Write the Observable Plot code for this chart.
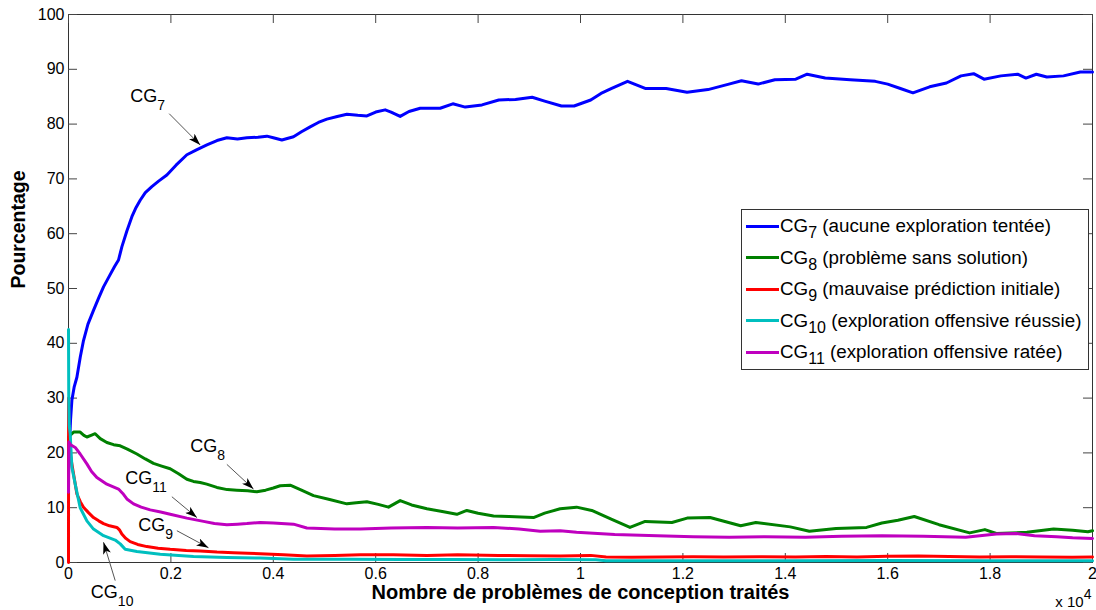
<!DOCTYPE html>
<html><head><meta charset="utf-8">
<script src="https://cdn.jsdelivr.net/npm/d3@7"></script>
<script src="https://cdn.jsdelivr.net/npm/@observablehq/plot@0.6"></script>
<style>
body{margin:0;background:#fff;}
#wrap{position:relative;width:1096px;height:610px;font-family:Arial,"Liberation Sans",sans-serif;}
#legend{position:absolute;left:741px;top:209px;width:348px;height:161px;border:1px solid #333;background:#fff;box-sizing:border-box;}
.row{position:absolute;left:0;height:20px;display:flex;align-items:center;font-size:18.8px;white-space:nowrap;color:#000;}
.sw{width:33px;height:3px;margin-left:4px;margin-right:1px;}
.row sub{font-size:16px;line-height:0;vertical-align:-6px;}
</style></head>
<body><div id="wrap"><div id="chart"></div><div id="legend"></div></div>
<script>
// ---- data ----
const xTicks = [0,2000,4000,6000,8000,10000,12000,14000,16000,18000,20000];
const xTickLabels = ["0","0.2","0.4","0.6","0.8","1","1.2","1.4","1.6","1.8","2"];
const yTicks = [0,10,20,30,40,50,60,70,80,90,100];

const cg7 = [[0,16],[15,21],[40,26],[66,29.6],[110,32],[164,33.8],[230,37.5],[293,40.5],[380,43.5],[488,46],[590,48.3],[684,50.3],[800,52.3],[900,54],[977,55.2],[1042,57.6],[1140,60.5],[1238,63.1],[1320,64.8],[1400,66.1],[1500,67.5],[1628,68.6],[1760,69.6],[1921,70.7],[2100,72.5],[2312,74.4],[2500,75.3],[2703,76.2],[2900,77],[3093,77.5],[3300,77.3],[3484,77.5],[3700,77.6],[3875,77.8],[4000,77.5],[4167,77.1],[4395,77.7],[4550,78.6],[4720,79.5],[4880,80.3],[5046,80.9],[5250,81.4],[5437,81.8],[5650,81.6],[5828,81.5],[6000,82.2],[6185,82.6],[6300,82.2],[6478,81.4],[6650,82.3],[6869,82.9],[7050,82.9],[7259,82.9],[7506,83.7],[7750,83.1],[8076,83.5],[8404,84.4],[8730,84.5],[9056,84.9],[9300,84.2],[9628,83.3],[9875,83.3],[10200,84.4],[10400,85.6],[10609,86.5],[10919,87.8],[11263,86.5],[11673,86.5],[12081,85.8],[12490,86.3],[12898,87.3],[13144,87.9],[13470,87.3],[13796,88.1],[14205,88.2],[14427,89.1],[14779,88.4],[15267,88.1],[15757,87.8],[16000,87.3],[16248,86.5],[16493,85.7],[16819,86.8],[17147,87.5],[17432,88.8],[17678,89.2],[17882,88.2],[18210,88.8],[18537,89.1],[18700,88.4],[18903,89.1],[19108,88.6],[19434,88.8],[19762,89.5],[20000,89.5]];

const cg8 = [[0,19],[8,23],[30,23.2],[100,23.8],[228,23.8],[300,23.2],[359,22.9],[440,23.2],[521,23.5],[620,22.6],[749,21.9],[880,21.5],[1010,21.3],[1150,20.7],[1336,19.8],[1500,18.9],[1660,18.1],[1820,17.6],[1986,17.1],[2150,16.2],[2312,15.2],[2440,14.8],[2572,14.6],[2700,14.3],[2898,13.7],[3100,13.3],[3289,13.2],[3500,13.1],[3679,12.9],[3850,13.2],[4000,13.6],[4135,14.0],[4330,14.1],[4550,13.2],[4785,12.2],[5100,11.5],[5437,10.7],[5620,10.9],[5828,11.1],[6050,10.6],[6250,10.1],[6478,11.3],[6700,10.5],[7000,9.8],[7300,9.3],[7585,8.8],[7780,9.5],[8000,9.0],[8302,8.5],[8600,8.4],[9082,8.2],[9300,9.0],[9603,9.8],[9923,10.1],[10220,9.5],[10600,7.9],[10966,6.4],[11263,7.5],[11786,7.3],[12083,8.1],[12530,8.2],[13128,6.7],[13425,7.3],[14097,6.5],[14470,5.7],[14991,6.2],[15587,6.4],[15886,7.2],[16200,7.7],[16519,8.4],[17003,6.9],[17601,5.4],[17898,6.0],[18122,5.3],[18718,5.5],[19240,6.1],[19612,5.9],[19910,5.6],[20000,5.8]];

const cg9 = [[0,0],[2,30],[6,21],[33,19.8],[98,16.2],[164,12.5],[230,11.1],[293,10.1],[390,9.1],[488,8.2],[590,7.6],[684,7.1],[800,6.7],[945,6.4],[1000,5.9],[1042,5.2],[1120,4.4],[1205,3.8],[1350,3.3],[1531,2.9],[1750,2.6],[1986,2.4],[2300,2.2],[2572,2.1],[2900,1.9],[3223,1.8],[3500,1.7],[3744,1.6],[4200,1.4],[4655,1.2],[5200,1.3],[5700,1.4],[6342,1.4],[7000,1.3],[7600,1.4],[8400,1.3],[9000,1.25],[9600,1.2],[10200,1.3],[10500,1.0],[11000,0.95],[11600,1.0],[12200,1.05],[12800,1.0],[13500,1.05],[14200,1.0],[14800,1.1],[15400,1.0],[16000,1.15],[16600,1.2],[17200,1.1],[17800,1.0],[18400,1.05],[19000,1.0],[19600,0.95],[20000,1.0]];

const cg10 = [[0,42.5],[5,30],[15,25],[33,23.5],[66,17.4],[131,14.3],[228,10],[359,7.6],[488,6.1],[684,4.9],[912,4.1],[1010,3.4],[1107,2.4],[1336,2.0],[1791,1.5],[2441,1.1],[3093,0.9],[3744,0.8],[4395,0.6],[5500,0.6],[6500,0.55],[7500,0.55],[8500,0.5],[9500,0.55],[10300,0.5],[10500,0.3],[12000,0.3],[14000,0.3],[16000,0.35],[18000,0.3],[20000,0.3]];

const cg11 = [[0,12.8],[8,22],[40,21.5],[131,21],[228,19.8],[359,18],[450,16.6],[554,15.5],[749,14.3],[977,13.4],[1060,12.6],[1140,11.6],[1270,10.7],[1420,10.1],[1596,9.6],[1800,9.2],[1986,8.8],[2312,8.1],[2637,7.5],[2850,7.1],[3093,6.9],[3300,7.0],[3484,7.1],[3744,7.3],[4000,7.2],[4395,7.0],[4655,6.3],[5200,6.1],[5697,6.1],[6300,6.3],[7000,6.4],[7600,6.3],[8302,6.4],[8800,6.1],[9213,5.7],[9603,5.8],[9923,5.5],[10668,5.1],[11500,4.9],[12200,4.7],[12903,4.6],[13600,4.7],[14394,4.6],[15100,4.8],[15886,4.9],[16700,4.8],[17524,4.6],[18122,5.2],[18500,5.3],[18868,4.9],[19300,4.7],[19612,4.5],[20000,4.4]];

const seriesSubs = ["7","8","9","10","11"];
const seriesColors = ["#0000ff","#008000","#ff0000","#00bfbf","#bf00bf"];
const seriesTexts = ["(aucune exploration tentée)","(problème sans solution)","(mauvaise prédiction initiale)","(exploration offensive réussie)","(exploration offensive ratée)"];
const seriesData = [cg7, cg8, cg9, cg10, cg11];

// annotation anchors in data units (x: problems, y: percent)
const annotations = [
  {n:"7",  tx:1205, ty:84.0, ax1:1967, ay1:81.9, ax2:2572, ay2:76.2},
  {n:"8",  tx:2377, ty:20.2, ax1:3093, ay1:17.9, ax2:3613, ay2:13.4},
  {n:"11", tx:1109, ty:14.4, ax1:2019, ay1:12.0, ax2:2508, ay2:8.2},
  {n:"9",  tx:1361, ty:5.8,  ax1:2117, ay1:5.8,  ax2:2734, ay2:2.7},
  {n:"10", tx:437,  ty:-6.4, ax1:912,  ay1:-3.3, ax2:684,  ay2:3.7}
];

const xLabel = "Nombre de problèmes de conception traités";
const yLabel = "Pourcentage";
const xExponent = "x 10^{4}";

// ---- chart ----
const W = 1096, H = 610, mL = 68, mR = 4, mT = 14, mB = 48;
const innerW = W - mL - mR, innerH = H - mT - mB, tickLen = 9;

const lineMarks = seriesData.map((d, i) =>
  Plot.line(d, {x: p => p[0], y: p => p[1], stroke: seriesColors[i], strokeWidth: 3, strokeLinejoin: "round"}));

const svg = Plot.plot({
  width: W, height: H,
  marginLeft: mL, marginRight: mR, marginTop: mT, marginBottom: mB,
  x: {domain: [0, 20000]},
  y: {domain: [0, 100]},
  style: {fontFamily: "Arial, 'Liberation Sans', sans-serif", fontSize: "16px", color: "#000", background: "#fff", overflow: "visible"},
  marks: [
    Plot.frame({stroke: "#333"}),
    Plot.tickX(xTicks, {x: d => d, insetTop: innerH - tickLen, stroke: "#444"}),
    Plot.tickX(xTicks, {x: d => d, insetBottom: innerH - tickLen, stroke: "#444"}),
    Plot.tickY(yTicks, {y: d => d, insetRight: innerW - tickLen, stroke: "#444"}),
    Plot.tickY(yTicks, {y: d => d, insetLeft: innerW - tickLen, stroke: "#444"}),
    Plot.axisX({ticks: xTicks, tickSize: 0, tickPadding: 5, tickFormat: (d, i) => xTickLabels[i], label: null}),
    Plot.axisY({ticks: yTicks, tickSize: 0, tickPadding: 4, label: null}),
    ...lineMarks,
    Plot.link(annotations, {x1: "ax1", y1: "ay1", x2: "ax2", y2: "ay2", stroke: "#555", strokeWidth: 1}),
    Plot.text(annotations, {x: "tx", y: "ty", text: d => `CG_{${d.n}}`, textAnchor: "start", lineAnchor: "bottom", fontSize: 18, fill: "#000"}),
    Plot.text([xLabel], {frameAnchor: "bottom", dy: 30, lineAnchor: "middle", fontWeight: "bold", fontSize: 20}),
    Plot.text([yLabel], {frameAnchor: "left", dx: -50, rotate: -90, lineAnchor: "middle", fontWeight: "bold", fontSize: 19.5}),
    Plot.text([xExponent], {frameAnchor: "bottom-right", textAnchor: "end", lineAnchor: "bottom", dy: 44, dx: -1, fontSize: 15})
  ]
});

// subscripts / superscripts and arrowheads
const s = d3.select(svg);
s.selectAll("text").each(function() {
  const str = this.textContent;
  if (!/[_^]\{/.test(str)) return;
  const t = d3.select(this);
  const big = parseFloat(t.attr("font-size")) || 16;
  this.textContent = "";
  const re = /([_^])\{([^}]*)\}|([^_^]+)/g;
  let m, shift = 0;
  while ((m = re.exec(str))) {
    if (m[3]) {
      const ts = t.append("tspan").text(m[3]);
      if (shift) { ts.attr("dy", -shift); shift = 0; }
    } else {
      const off = m[1] === "_" ? Math.round(big * 0.5) : -Math.round(big * 0.5);
      t.append("tspan").attr("dy", off).attr("font-size", Math.round(big * 0.9)).text(m[2]);
      shift = off;
    }
  }
});
const defs = s.insert("defs", ":first-child");
defs.append("marker").attr("id", "ahead").attr("viewBox", "0 0 12 8").attr("refX", 12).attr("refY", 4)
  .attr("markerWidth", 12).attr("markerHeight", 8).attr("markerUnits", "userSpaceOnUse").attr("orient", "auto")
  .append("path").attr("d", "M0,0L12,4L0,8L3,4Z").attr("fill", "#000");
s.selectAll("g[aria-label='link'] path").attr("marker-end", "url(#ahead)");

document.getElementById("chart").appendChild(svg);

// legend
const leg = d3.select("#legend");
seriesSubs.forEach((sub, i) => {
  const row = leg.append("div").attr("class", "row").style("top", (6 + 31.6 * i) + "px");
  row.append("div").attr("class", "sw").style("background", seriesColors[i]);
  row.append("span").html(`CG<sub>${sub}</sub> ${seriesTexts[i]}`);
});
</script></body></html>
